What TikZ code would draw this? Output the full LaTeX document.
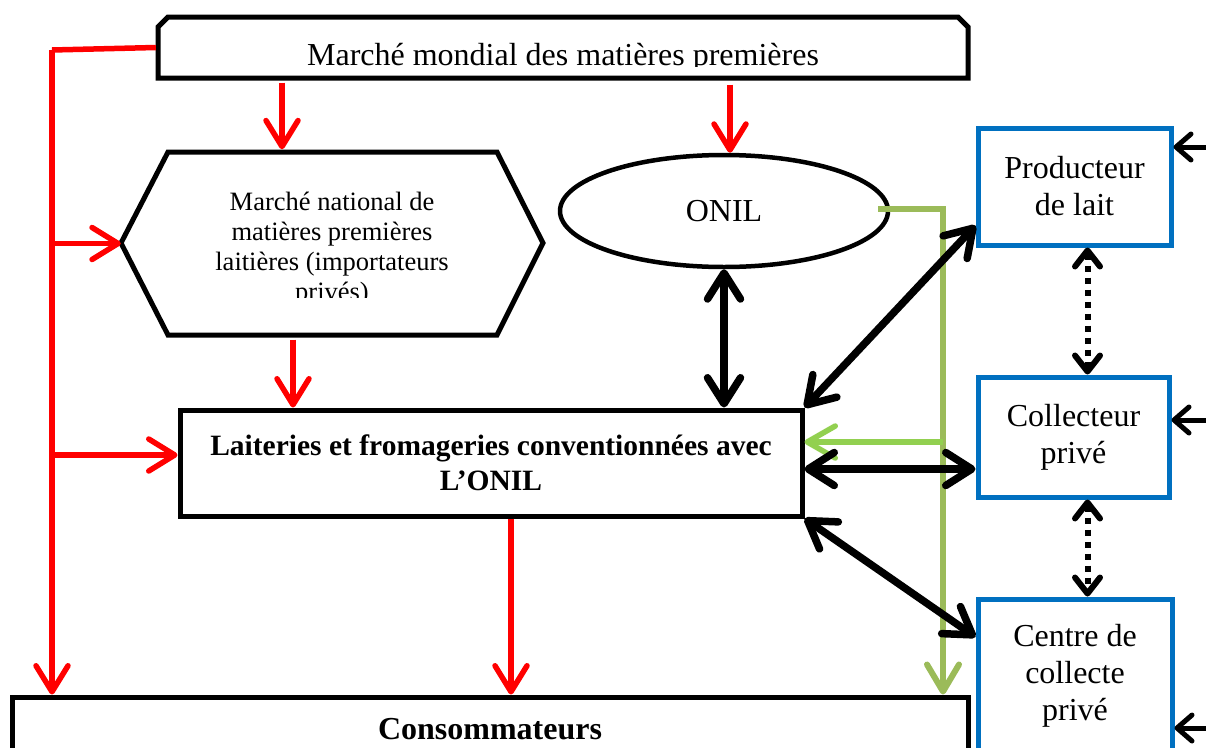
\documentclass[tikz,border=0pt]{standalone}
\usepackage{fontspec}
\setmainfont{Liberation Serif}
\usetikzlibrary{arrows.meta,shapes.geometric,calc}
\definecolor{redc}{HTML}{FF0000}
\definecolor{bluec}{HTML}{0070C0}
\definecolor{olivec}{HTML}{9BBB59}
\definecolor{lgreenc}{HTML}{92D050}
\tikzset{
  boxline/.style={draw=black, line width=5pt, line join=miter},
  box/.style={draw=black, line width=5pt, inner sep=0pt, align=center},
  bluebox/.style={draw=bluec, line width=5pt, inner sep=0pt, align=center, font=\fontsize{32}{37}\selectfont},
  redarr/.style={draw=redc, line width=5.5pt, -{Straight Barb[length=26pt,width=32pt,round]}},
  blkarr/.style={draw=black, line width=7.5pt, {Straight Barb[length=26pt,width=33pt,round]}-{Straight Barb[length=26pt,width=33pt,round]}},
  dotarr/.style={draw=black, line width=6pt, dash pattern=on 6pt off 6pt, {Straight Barb[length=16pt,width=25pt,round]}-{Straight Barb[length=16pt,width=25pt,round]}},
  smallarr/.style={draw=black, line width=5pt, -{Straight Barb[length=15pt,width=26pt,round]}},
  olivearr/.style={draw=olivec, line width=6pt, -{Straight Barb[length=27pt,width=32pt,round]}},
  lgarr/.style={draw=lgreenc, line width=5.5pt, -{Straight Barb[length=28pt,width=32pt,round]}},
}
\begin{document}
\begin{tikzpicture}[x=1pt,y=-1pt]
\useasboundingbox (0,0) rectangle (1206,747);
\fill[white] (0,0) rectangle (1206,747);

% top box
\draw[boxline] (158,78) -- (158,27) -- (168,17) -- (958,17) -- (968,27) -- (968,78) -- cycle;
\node[minimum width=814pt, minimum height=66pt, inner sep=0pt] (mondial) at (563,47.5) {};
\begin{scope}
  \clip (161,20) rectangle (965,66);
  \node[anchor=base, inner sep=0pt, font=\fontsize{32}{37}\selectfont] (mondialtxt) at (563,65.5) {Marché mondial des matières premières};
\end{scope}

% hexagon
\draw[boxline] (121,243) -- (168,152) -- (497,152) -- (543,243) -- (497,335) -- (168,335) -- cycle;
\node[minimum width=422pt, minimum height=188pt, inner sep=0pt] (hex) at (332,243.5) {};
\begin{scope}
  \clip (125,155) rectangle (540,297);
  \node[align=center, inner sep=0pt, font=\fontsize{26.5}{30}\selectfont] (hextxt) at (332,249.5)
    {Marché national de\\matières premières\\laitières (importateurs\\privés)};
\end{scope}

% ONIL
\node[ellipse, draw, line width=4.5pt, minimum width=328pt, minimum height=112pt, inner sep=0pt,
      font=\fontsize{32}{37}\selectfont] (onil) at (724,211) {ONIL};

% Laiteries
\node[box, minimum width=622pt, minimum height=106pt, font=\fontsize{29.5}{35}\selectfont\bfseries] (lait) at (491,463)
  {Laiteries et fromageries conventionnées avec\\L’ONIL};

% Consommateurs
\node[box, minimum width=956pt, minimum height=64pt, font=\fontsize{32}{37}\selectfont\bfseries] (conso) at (490,729) {Consommateurs};

% blue boxes
\node[bluebox, minimum width=193pt, minimum height=117pt] (prod) at (1074.5,186.5) {Producteur\\de lait};
\node[bluebox, minimum width=191pt, minimum height=120pt] (coll) at (1073.5,437) {Collecteur\\privé};
\node[bluebox, minimum width=194pt, minimum height=154pt] (centre) at (1075,676) {Centre de\\collecte\\privé};

% helper coordinates
\coordinate (rl) at (52,50);
\coordinate (lw) at ([yshift=8pt]lait.west);
\coordinate (lg) at ([yshift=21pt]lait.east);
\coordinate (lb) at ([yshift=-6pt]lait.east);
\coordinate (g1) at (943,209);

% green connectors
\draw[olivearr] ([xshift=-12pt,yshift=2pt]onil.east) -- (g1) -- (g1 |- conso.north);
\draw[lgarr] (g1 |- lg) -- (lg);

% red connectors
\draw[redarr, -] (mondial.west) -- (rl);
\draw[redarr] (rl) -- (rl |- conso.north);
\draw[redarr] (rl |- hex.west) -- (hex.west);
\draw[redarr] (rl |- lw) -- (lw);
\draw[redarr, shorten <=2pt] ([xshift=-281pt]mondial.south) -- ([xshift=-281pt]mondial.south |- hex.north);
\draw[redarr, shorten <=4pt] ([xshift=167pt]mondial.south) -- ([xshift=167pt]mondial.south |- onil.north);
\draw[redarr, shorten <=2pt] ([xshift=-39pt]hex.south) -- ([xshift=-39pt]hex.south |- lait.north);
\draw[redarr] ([xshift=20pt]lait.south) -- ([xshift=20pt]lait.south |- conso.north);

% black connectors
\draw[blkarr] (onil.south) -- (onil.south |- lait.north);
\draw[blkarr] (lait.north east) -- ([yshift=-39pt]prod.west);
\draw[blkarr] (lb) -- (lb -| coll.west);
\draw[blkarr] (lait.south east) -- ([yshift=39pt]centre.west);

% dotted connectors
\draw[dotarr] ([xshift=13pt]prod.south) -- ([xshift=13pt]prod.south |- coll.north);
\draw[dotarr] ([xshift=14pt]coll.south) -- ([xshift=14pt]coll.south |- centre.north);

% right edge arrows
\coordinate (e1) at (1215,147);
\coordinate (e2) at (1215,420);
\coordinate (e3) at (1215,728);
\draw[smallarr] (e1) -- (e1 -| prod.east);
\draw[smallarr] (e2) -- (e2 -| coll.east);
\draw[smallarr] (e3) -- (e3 -| centre.east);
\end{tikzpicture}
\end{document}
